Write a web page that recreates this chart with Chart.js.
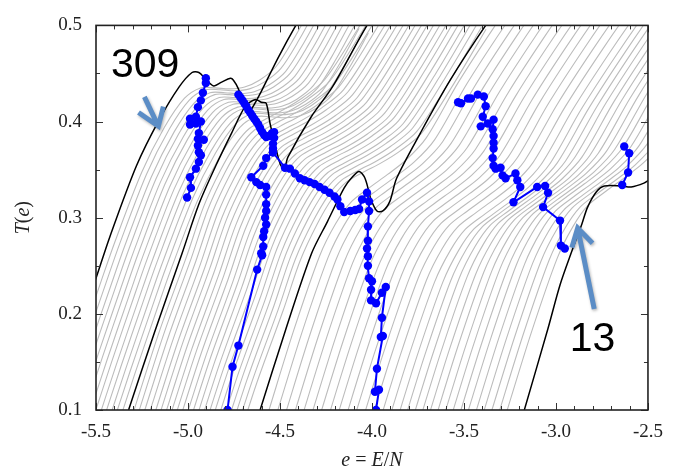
<!DOCTYPE html>
<html>
<head>
<meta charset="utf-8">
<script src="https://cdn.jsdelivr.net/npm/chart.js@4.4.1/dist/chart.umd.min.js"></script>
<style>
  html, body { margin: 0; padding: 0; background: #fff; }
  #wrap { width: 674px; height: 475px; }
</style>
</head>
<body>
<div id="wrap"><canvas id="chart" width="674" height="475"></canvas></div>
<script>
'use strict';

/* --- Axis ticks --- */
const xMajor = [-5.5, -5.0, -4.5, -4.0, -3.5, -3.0, -2.5];
const xMinor = [-5.4, -5.3, -5.2, -5.1, -4.9, -4.8, -4.7, -4.6, -4.4, -4.3, -4.2, -4.1,
                -3.9, -3.8, -3.7, -3.6, -3.4, -3.3, -3.2, -3.1, -2.9, -2.8, -2.7, -2.6];
const yMajor = [0.1, 0.2, 0.3, 0.4, 0.5];
const yMinor = [0.15, 0.25, 0.35, 0.45];

/* --- Black curves (magic sizes) --- */
const curve309 = [[-5.62, 0.17], [-5.5, 0.237], [-5.425, 0.280], [-5.28, 0.354], [-5.156, 0.402],
  [-5.048, 0.436], [-4.978, 0.451], [-4.941, 0.451], [-4.903, 0.444], [-4.86, 0.437],
  [-4.817, 0.441], [-4.769, 0.445], [-4.753, 0.443], [-4.726, 0.434], [-4.70, 0.418],
  [-4.677, 0.409], [-4.655, 0.413], [-4.6, 0.432], [-4.511, 0.466], [-4.414, 0.5], [-4.35, 0.52]];
const curve147 = [[-5.323, 0.1], [-5.18, 0.182], [-5.032, 0.263], [-4.941, 0.314], [-4.849, 0.354],
  [-4.763, 0.388], [-4.688, 0.416], [-4.634, 0.423], [-4.602, 0.420], [-4.575, 0.419],
  [-4.554, 0.398], [-4.522, 0.372], [-4.495, 0.354], [-4.475, 0.352], [-4.457, 0.363],
  [-4.33, 0.405], [-4.215, 0.436], [-4.027, 0.5], [-3.95, 0.52]];
const curve55 = [[-4.608, 0.1], [-4.47, 0.183], [-4.328, 0.263], [-4.242, 0.296], [-4.151, 0.331],
  [-4.108, 0.342], [-4.070, 0.348], [-4.038, 0.341], [-4.005, 0.319], [-3.973, 0.307],
  [-3.941, 0.307], [-3.903, 0.317], [-3.866, 0.341], [-3.737, 0.388], [-3.575, 0.443],
  [-3.382, 0.5], [-3.3, 0.52]];
const curve13 = [[-3.172, 0.1], [-3.043, 0.185], [-2.978, 0.230], [-2.914, 0.265], [-2.860, 0.293],
  [-2.828, 0.311], [-2.780, 0.327], [-2.737, 0.333], [-2.645, 0.333], [-2.591, 0.332],
  [-2.522, 0.336], [-2.489, 0.340]];

/* --- Gray curves: shape of each band and where each copy sits --- */
const shapeA = [[-5.74, 0.1], [-5.62, 0.17], [-5.5, 0.237], [-5.425, 0.278], [-5.28, 0.35],
  [-5.156, 0.397], [-5.048, 0.427], [-4.96, 0.438], [-4.88, 0.438], [-4.80, 0.437],
  [-4.72, 0.439], [-4.64, 0.446], [-4.55, 0.46], [-4.45, 0.49], [-4.35, 0.525]];
const shapeB = [[-5.323, 0.1], [-5.18, 0.185], [-5.032, 0.263], [-4.941, 0.314], [-4.849, 0.352],
  [-4.763, 0.380], [-4.69, 0.396], [-4.60, 0.406], [-4.50, 0.416], [-4.40, 0.428],
  [-4.28, 0.447], [-4.10, 0.5], [-3.93, 0.555]];
const shapeC = [[-4.608, 0.1], [-4.47, 0.185], [-4.328, 0.263], [-4.242, 0.296], [-4.16, 0.318],
  [-4.06, 0.333], [-3.96, 0.347], [-3.86, 0.362], [-3.75, 0.385], [-3.575, 0.443],
  [-3.382, 0.5], [-3.2, 0.55], [-3.0, 0.6]];

const shiftsA = [[0.028, -0.003], [0.054, -0.005], [0.08, -0.008], [0.105, -0.010], [0.13, -0.013],
  [0.155, -0.015], [0.18, -0.018], [0.205, -0.020], [0.23, -0.023], [0.255, -0.025],
  [0.28, -0.028], [0.305, -0.030], [0.33, -0.033]];
const shiftsB = [[0.025, -0.003], [0.05, -0.005], [0.075, -0.008], [0.1, -0.011], [0.125, -0.014],
  [0.15, -0.016], [0.175, -0.019], [0.2, -0.022], [0.225, -0.024], [0.25, -0.027],
  [0.275, -0.030], [0.3, -0.032], [0.325, -0.035], [0.35, -0.038], [0.375, -0.041],
  [0.4, -0.043], [0.425, -0.046], [0.45, -0.049], [0.475, -0.051], [0.5, -0.054],
  [0.525, -0.057], [0.55, -0.059]];
const shiftsC = [[0.045, -0.002], [0.09, -0.004], [0.134, -0.006], [0.179, -0.008], [0.223, -0.010],
  [0.268, -0.012], [0.312, -0.014], [0.357, -0.016], [0.401, -0.018], [0.446, -0.020],
  [0.49, -0.022], [0.535, -0.024], [0.579, -0.026], [0.624, -0.028], [0.668, -0.030],
  [0.713, -0.030], [0.757, -0.028], [0.802, -0.026], [0.846, -0.024], [0.891, -0.022],
  [0.935, -0.020], [0.98, -0.018], [1.024, -0.016], [1.069, -0.014], [1.113, -0.012],
  [1.158, -0.011], [1.202, -0.010], [1.247, -0.008], [1.291, -0.007], [1.335, -0.005]];

/* --- Blue runs (measured points) --- */
const run1 = [[-4.903, 0.445], [-4.903, 0.440], [-4.919, 0.430], [-4.930, 0.422], [-4.946, 0.415],
  [-4.957, 0.405], [-4.989, 0.403], [-4.989, 0.397], [-4.957, 0.398], [-4.930, 0.400],
  [-4.941, 0.388], [-4.946, 0.382], [-4.914, 0.381], [-4.946, 0.375], [-4.941, 0.368],
  [-4.930, 0.365], [-4.941, 0.358], [-4.957, 0.351], [-4.989, 0.342], [-4.984, 0.331],
  [-5.005, 0.321]];
const run2 = [[-4.726, 0.428], [-4.715, 0.425], [-4.704, 0.422], [-4.694, 0.419], [-4.683, 0.416],
  [-4.672, 0.412], [-4.661, 0.409], [-4.651, 0.406], [-4.640, 0.403], [-4.629, 0.400],
  [-4.618, 0.397], [-4.608, 0.393], [-4.597, 0.389], [-4.586, 0.386], [-4.575, 0.384],
  [-4.559, 0.385], [-4.543, 0.388], [-4.532, 0.389], [-4.532, 0.383], [-4.538, 0.377],
  [-4.538, 0.372], [-4.538, 0.368], [-4.473, 0.352], [-4.446, 0.351], [-4.419, 0.346],
  [-4.392, 0.341], [-4.366, 0.339], [-4.339, 0.337], [-4.312, 0.335], [-4.285, 0.332],
  [-4.258, 0.329], [-4.231, 0.326], [-4.204, 0.322], [-4.188, 0.319], [-4.172, 0.312],
  [-4.151, 0.306], [-4.118, 0.307], [-4.091, 0.308], [-4.070, 0.309], [-4.054, 0.319],
  [-4.027, 0.326], [-4.016, 0.317], [-4.016, 0.307], [-4.022, 0.291], [-4.022, 0.276],
  [-4.027, 0.268], [-4.022, 0.260], [-4.022, 0.250], [-4.016, 0.237], [-4.000, 0.234],
  [-4.005, 0.225], [-4.005, 0.214], [-3.978, 0.211], [-3.946, 0.222], [-3.925, 0.228],
  [-3.946, 0.196], [-3.952, 0.176], [-3.941, 0.177], [-3.973, 0.143], [-3.984, 0.119],
  [-3.962, 0.121], [-3.978, 0.100]];
const run3 = [[-4.538, 0.368], [-4.575, 0.362], [-4.591, 0.354], [-4.656, 0.342], [-4.629, 0.337],
  [-4.608, 0.334], [-4.575, 0.332], [-4.575, 0.324], [-4.575, 0.314], [-4.575, 0.307],
  [-4.581, 0.300], [-4.575, 0.293], [-4.586, 0.286], [-4.591, 0.280], [-4.591, 0.270],
  [-4.602, 0.263], [-4.597, 0.261], [-4.624, 0.246], [-4.726, 0.167], [-4.758, 0.145],
  [-4.785, 0.100]];
const run4 = [[-3.532, 0.420], [-3.516, 0.419], [-3.478, 0.424], [-3.462, 0.424], [-3.425, 0.428],
  [-3.392, 0.426], [-3.382, 0.416], [-3.398, 0.405], [-3.371, 0.398], [-3.409, 0.395],
  [-3.339, 0.402], [-3.344, 0.392], [-3.339, 0.385], [-3.339, 0.378], [-3.339, 0.372],
  [-3.344, 0.362], [-3.339, 0.354], [-3.328, 0.351], [-3.301, 0.352], [-3.290, 0.344],
  [-3.274, 0.341], [-3.220, 0.346], [-3.210, 0.339], [-3.194, 0.332], [-3.231, 0.316],
  [-3.102, 0.332], [-3.059, 0.333], [-3.043, 0.326], [-3.070, 0.311], [-2.978, 0.297],
  [-2.973, 0.271], [-2.952, 0.268]];
const run5 = [[-2.629, 0.374], [-2.602, 0.367], [-2.608, 0.347], [-2.640, 0.334]];

/* --- Annotations --- */
const labels = [{ text: '309', x: -5.419, y: 0.446 }, { text: '13', x: -2.925, y: 0.161 }];
const arrows = [
  { tail: [-5.237, 0.4257], tip: [-5.161, 0.3951], wings: [[-5.269, 0.4094], [-5.134, 0.4155]] },
  { tail: [-2.792, 0.205], tip: [-2.882, 0.2893], wings: [[-2.914, 0.2689], [-2.801, 0.2735]] }
];

const toPts = arr => arr.map(([x, y]) => ({ x, y }));

const datasets = [];
function addGray(shape, shifts) {
  shifts.forEach(([dx, dy]) => datasets.push({
    data: shape.map(([x, y]) => ({ x: x + dx, y: y + dy })),
    showLine: true, borderColor: '#bcbcbc', borderWidth: 1.1, pointRadius: 0,
    tension: 0.3, order: 3
  }));
}
addGray(shapeA, shiftsA);
addGray(shapeB, shiftsB);
addGray(shapeC, shiftsC);

[curve309, curve147, curve55, curve13].forEach(c => datasets.push({
  data: toPts(c), showLine: true, borderColor: '#000', borderWidth: 1.5,
  pointRadius: 0, tension: 0.3, order: 2
}));

[run1, run2, run3, run4, run5].forEach(r => datasets.push({
  data: toPts(r), showLine: true, borderColor: '#0000ff', backgroundColor: '#0000ff',
  borderWidth: 2, pointRadius: 4.2, pointBorderWidth: 0, tension: 0, order: 1
}));

/* --- Frame, inward ticks, titles and annotations --- */
const decor = {
  id: 'decor',
  afterDatasetsDraw(chart) {
    const c = chart.ctx, a = chart.chartArea;
    const xs = chart.scales.x, ys = chart.scales.y;
    c.save();
    c.strokeStyle = '#333';
    c.lineWidth = 1;
    const tickX = (v, len) => {
      const p = Math.round(xs.getPixelForValue(v)) + 0.5;
      c.beginPath();
      c.moveTo(p, a.bottom); c.lineTo(p, a.bottom - len);
      c.moveTo(p, a.top); c.lineTo(p, a.top + len);
      c.stroke();
    };
    const tickY = (v, len) => {
      const p = Math.round(ys.getPixelForValue(v)) + 0.5;
      c.beginPath();
      c.moveTo(a.left, p); c.lineTo(a.left + len, p);
      c.moveTo(a.right, p); c.lineTo(a.right - len, p);
      c.stroke();
    };
    xMajor.forEach(v => tickX(v, 7));
    xMinor.forEach(v => tickX(v, 4));
    yMajor.forEach(v => tickY(v, 7));
    yMinor.forEach(v => tickY(v, 4));
    c.strokeStyle = '#222';
    c.lineWidth = 1.6;
    c.strokeRect(a.left, a.top, a.right - a.left, a.bottom - a.top);
    c.restore();
  },
  afterDraw(chart) {
    const c = chart.ctx, a = chart.chartArea;
    const xs = chart.scales.x, ys = chart.scales.y;
    const px = v => xs.getPixelForValue(v), py = v => ys.getPixelForValue(v);

    // arrows
    c.save();
    c.strokeStyle = '#5b8dc6';
    c.lineWidth = 5;
    c.lineCap = 'butt';
    c.lineJoin = 'miter';
    c.shadowColor = 'rgba(0,0,0,0.3)';
    c.shadowBlur = 3;
    c.shadowOffsetX = 1;
    c.shadowOffsetY = 1.5;
    arrows.forEach(ar => {
      c.beginPath();
      c.moveTo(px(ar.tail[0]), py(ar.tail[1]));
      c.lineTo(px(ar.tip[0]), py(ar.tip[1]));
      c.moveTo(px(ar.wings[0][0]), py(ar.wings[0][1]));
      c.lineTo(px(ar.tip[0]), py(ar.tip[1]));
      c.lineTo(px(ar.wings[1][0]), py(ar.wings[1][1]));
      c.stroke();
    });
    c.restore();

    // size labels
    c.save();
    c.fillStyle = '#000';
    c.font = '41px "Liberation Sans", Arial, sans-serif';
    c.textBaseline = 'alphabetic';
    labels.forEach(l => c.fillText(l.text, px(l.x), py(l.y)));
    c.restore();

    // axis titles with math italics
    const up = '20px "Liberation Serif", serif';
    const it = 'italic 20px "Liberation Serif", serif';
    const drawParts = (parts, x0, y0) => {
      let w = 0;
      parts.forEach(([t, i]) => { c.font = i ? it : up; w += c.measureText(t).width; });
      let x = x0 - w / 2;
      parts.forEach(([t, i]) => { c.font = i ? it : up; c.fillText(t, x, y0); x += c.measureText(t).width; });
    };
    c.save();
    c.fillStyle = '#222';
    c.textBaseline = 'alphabetic';
    drawParts([['e', 1], [' = ', 0], ['E', 1], ['/', 0], ['N', 1]], (a.left + a.right) / 2, 466);
    c.translate(29, (a.top + a.bottom) / 2);
    c.rotate(-Math.PI / 2);
    drawParts([['T', 1], ['(', 0], ['e', 1], [')', 0]], 0, 0);
    c.restore();
  }
};

const tickFont = { family: '"Liberation Serif", serif', size: 19 };

new Chart(document.getElementById('chart').getContext('2d'), {
  type: 'scatter',
  data: { datasets },
  options: {
    responsive: false,
    animation: false,
    events: [],
    layout: { padding: { left: 0, right: 20, top: 17, bottom: 0 } },
    plugins: { legend: { display: false }, tooltip: { enabled: false } },
    scales: {
      x: {
        type: 'linear', min: -5.5, max: -2.5,
        afterBuildTicks: axis => { axis.ticks = xMajor.map(v => ({ value: v })); },
        afterFit: axis => { axis.height = 65; },
        grid: { display: false, drawTicks: false },
        border: { display: false },
        ticks: { font: tickFont, color: '#222', padding: 11, maxRotation: 0, autoSkip: false,
                 callback: v => v.toFixed(1) }
      },
      y: {
        type: 'linear', min: 0.1, max: 0.5,
        afterBuildTicks: axis => { axis.ticks = yMajor.map(v => ({ value: v })); },
        afterFit: axis => { axis.width = 96; },
        grid: { display: false, drawTicks: false },
        border: { display: false },
        ticks: { font: tickFont, color: '#222', padding: 14, autoSkip: false,
                 callback: v => v.toFixed(1) }
      }
    }
  },
  plugins: [decor]
});
</script>
</body>
</html>
